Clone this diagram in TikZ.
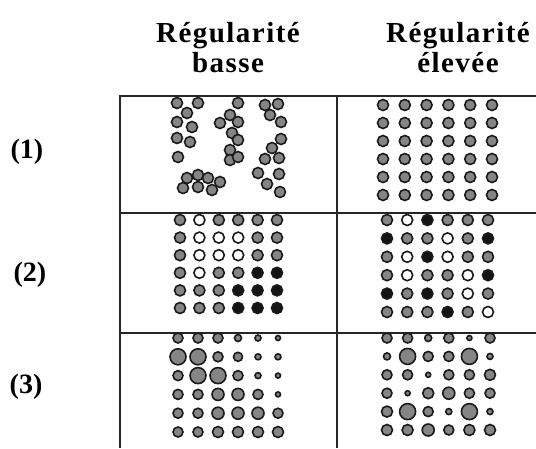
\documentclass[tikz,border=0pt]{standalone}
\usepackage{fontspec}
\setmainfont{Liberation Serif}
\newfontfamily\headfont[LetterSpace=5]{Liberation Serif}
\definecolor{dotfill}{HTML}{858585}
\definecolor{dotline}{HTML}{1A1A1A}
\colorlet{gr}{dotfill}
\colorlet{wh}{white}
\colorlet{bk}{black!92}
\tikzset{
  % Column and row headings
  head/.style={font=\headfont\fontsize{29}{30}\selectfont\bfseries,align=center,
               inner sep=0pt},
  rowlb/.style={font=\fontsize{28}{30}\selectfont\bfseries,inner sep=0pt},
  % Table rules
  hrule/.style={line width=2.4pt,draw=black!85},
  vrule/.style={line width=1.6pt,draw=black!85},
  % Dots
  dot/.style={draw=dotline,line width=1.6pt,fill=dotfill}
}

\begin{document}
\begin{tikzpicture}[x=1pt,y=-1pt]
  \useasboundingbox (0,0) rectangle (536,448);
  \fill[white] (0,0) rectangle (536,448);

  % Headings
  \node[head,anchor=base] (hlow)  at (228,72) {Régularité\\basse};
  \node[head,anchor=base] (hhigh) at (458,72) {Régularité\\élevée};
  \node[rowlb] (row1) at (27,152) {(1)};
  \node[rowlb] (row2) at (30,275) {(2)};
  \node[rowlb] (row3) at (26,387) {(3)};

  % Table rules
  \draw[hrule] (120,96)  -- (536,96);
  \draw[hrule] (120,213) -- (536,213);
  \draw[hrule] (120,333) -- (536,333);
  \draw[vrule] (120,95)  -- (120,448);
  \draw[vrule] (337,95)  -- (337,448);

  % (1) low regularity: clusters
  \foreach \xx/\yy in {177/103,198/103,187/113,177/122,192/127,177/138,190/142,178/157,
                       187/178,198/175,208/178,220/182,183/188,198/187,212/190,
                       238/103,230/115,220/123,238/122,232/133,238/140,230/150,230/160,238/157,
                       265/105,278/104,270/115,281/122,281/139,272/148,265/159,279/158,
                       258/173,267/184,279/174,280/192}
    \draw[dot] (\xx,\yy) circle[radius=5.5];

  % (1) high regularity: grid
  \foreach \r in {0,...,5}
    \foreach \c in {0,...,5}
      \draw[dot] ({383+21.8*\c},{105+18*\r}) circle[radius=5.5];

  % (2) low regularity: shades in patches
  \foreach \klist [count=\r from 0] in {{gr,wh,gr,gr,gr,gr},{gr,wh,wh,wh,gr,gr},
      {gr,wh,wh,wh,gr,gr},{gr,wh,gr,gr,bk,bk},{gr,gr,gr,bk,bk,bk},{gr,gr,gr,bk,bk,bk}}
    \foreach \kind [count=\c from 0] in \klist
      \draw[dot,fill=\kind] ({180+19.4*\c},{220+17.6*\r}) circle[radius=5.5];

  % (2) high regularity: shades mixed
  \foreach \klist [count=\r from 0] in {{gr,wh,bk,gr,gr,gr},{bk,gr,gr,wh,gr,bk},
      {gr,wh,bk,wh,gr,gr},{gr,wh,gr,gr,wh,bk},{bk,gr,bk,gr,wh,gr},{gr,gr,gr,bk,gr,wh}}
    \foreach \kind [count=\c from 0] in \klist
      \draw[dot,fill=\kind] ({387+20.2*\c},{220+18.4*\r}) circle[radius=5.5];

  % (3) low regularity: sizes in patches
  \foreach \rlist [count=\r from 0] in {{5,5,5,3.5,3,2.5},{8,8,5,4.5,3,3},
      {5,8,8,5,3,2.5},{5,5,6,6,5,2.5},{5,5,6,6,6,5},{5,5,5.5,5.5,5.5,5.5}}
    \foreach \rr [count=\c from 0] in \rlist
      \draw[dot] ({178+20*\c},{338+18.8*\r}) circle[radius=\rr];

  % (3) high regularity: sizes mixed
  \foreach \rlist [count=\r from 0] in {{5,5,3.5,5,2.5,5},{3.5,8,5,5,8,3},
      {5,5,2.5,5,5,5.5},{5,2.5,5.5,6,5,5},{5.5,8,5,3,8,3},{5.5,5.5,6,5,5.5,5.5}}
    \foreach \rr [count=\c from 0] in \rlist
      \draw[dot] ({387+20.6*\c},{338+18.4*\r}) circle[radius=\rr];
\end{tikzpicture}
\end{document}
